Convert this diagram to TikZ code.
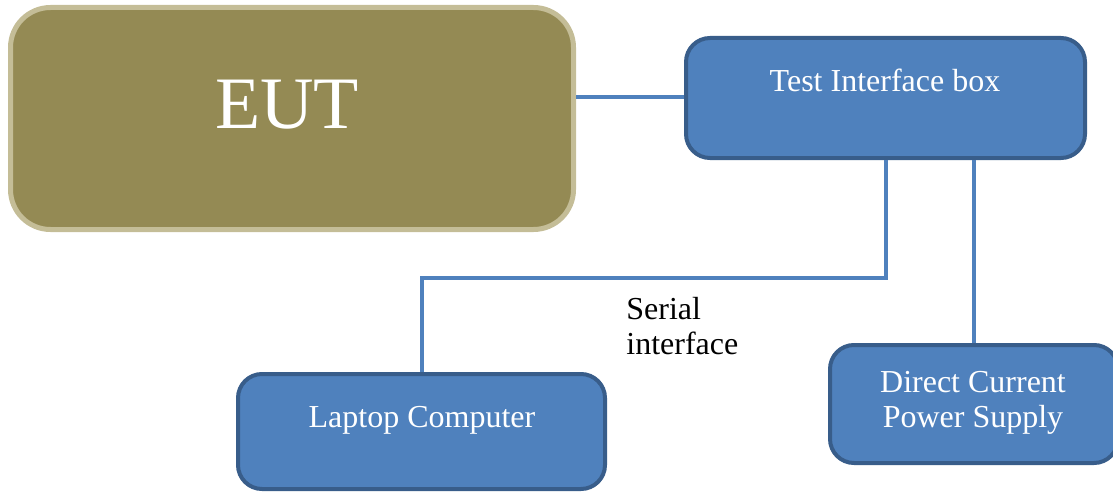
\documentclass[tikz,border=0pt]{standalone}
\usepackage{fontspec}
\setmainfont{Liberation Serif}
\usepackage{tikz}
\usetikzlibrary{positioning}
\definecolor{eutfill}{HTML}{948A54}
\definecolor{eutline}{HTML}{C4BD97}
\definecolor{boxfill}{HTML}{4F81BD}
\definecolor{boxline}{HTML}{385D8A}
\tikzset{eutbox/.style = {draw = eutline, fill = eutfill, line width = 2.5pt,
                          rounded corners = 20pt, inner sep = 0}}
\tikzset{bluebox/.style = {draw = boxline, fill = boxfill, line width = 2pt,
                           rounded corners = 12pt, inner sep = 0}}
\tikzset{wire/.style = {draw = boxfill, line width = 2pt}}
\tikzset{txt/.style = {text = white, inner sep = 0, font = \fontsize{16}{17.5}\selectfont}}

\begin{document}
\begin{tikzpicture}[x = 0.5pt, y = -0.5pt]
      \useasboundingbox (0, 0) rectangle (1113, 492);

      \node [eutbox, minimum width = 281.5pt, minimum height = 111pt] (eut) at (292, 118.5) {};
      \node [bluebox, minimum width = 199.5pt, minimum height = 60pt] (tib) at (885.5, 98) {};
      \node [bluebox, minimum width = 183.5pt, minimum height = 57.5pt] (laptop) at (421.5, 431.5) {};
      \node [bluebox, minimum width = 144pt, minimum height = 59pt] (dcps) at (974, 404) {};

      \node [txt, anchor = base, font = \fontsize{37}{40}\selectfont] (euttxt) at (287, 128) {EUT};
      \node [txt, anchor = base] (tibtxt) at (885, 91) {Test Interface box};
      \node [txt, anchor = base] (laptoptxt) at (422, 427) {Laptop Computer};
      \node [txt, align = center] (dcpstxt) at (973, 403) {Direct Current\\Power Supply};
      \node [txt, text = black, align = left, anchor = west] (serial) at (626, 326) {Serial\\interface};

    % cables between the units
      \draw [wire] (eut.east |- 0, 97) -- (tib.west |- 0, 97);
      \draw [wire] (tib.south) -- ++(0, 118) -| (laptop.north);
      \draw [wire] (tib.south -| dcps.north) -- (dcps.north);
    \end{tikzpicture}
\end{document}
